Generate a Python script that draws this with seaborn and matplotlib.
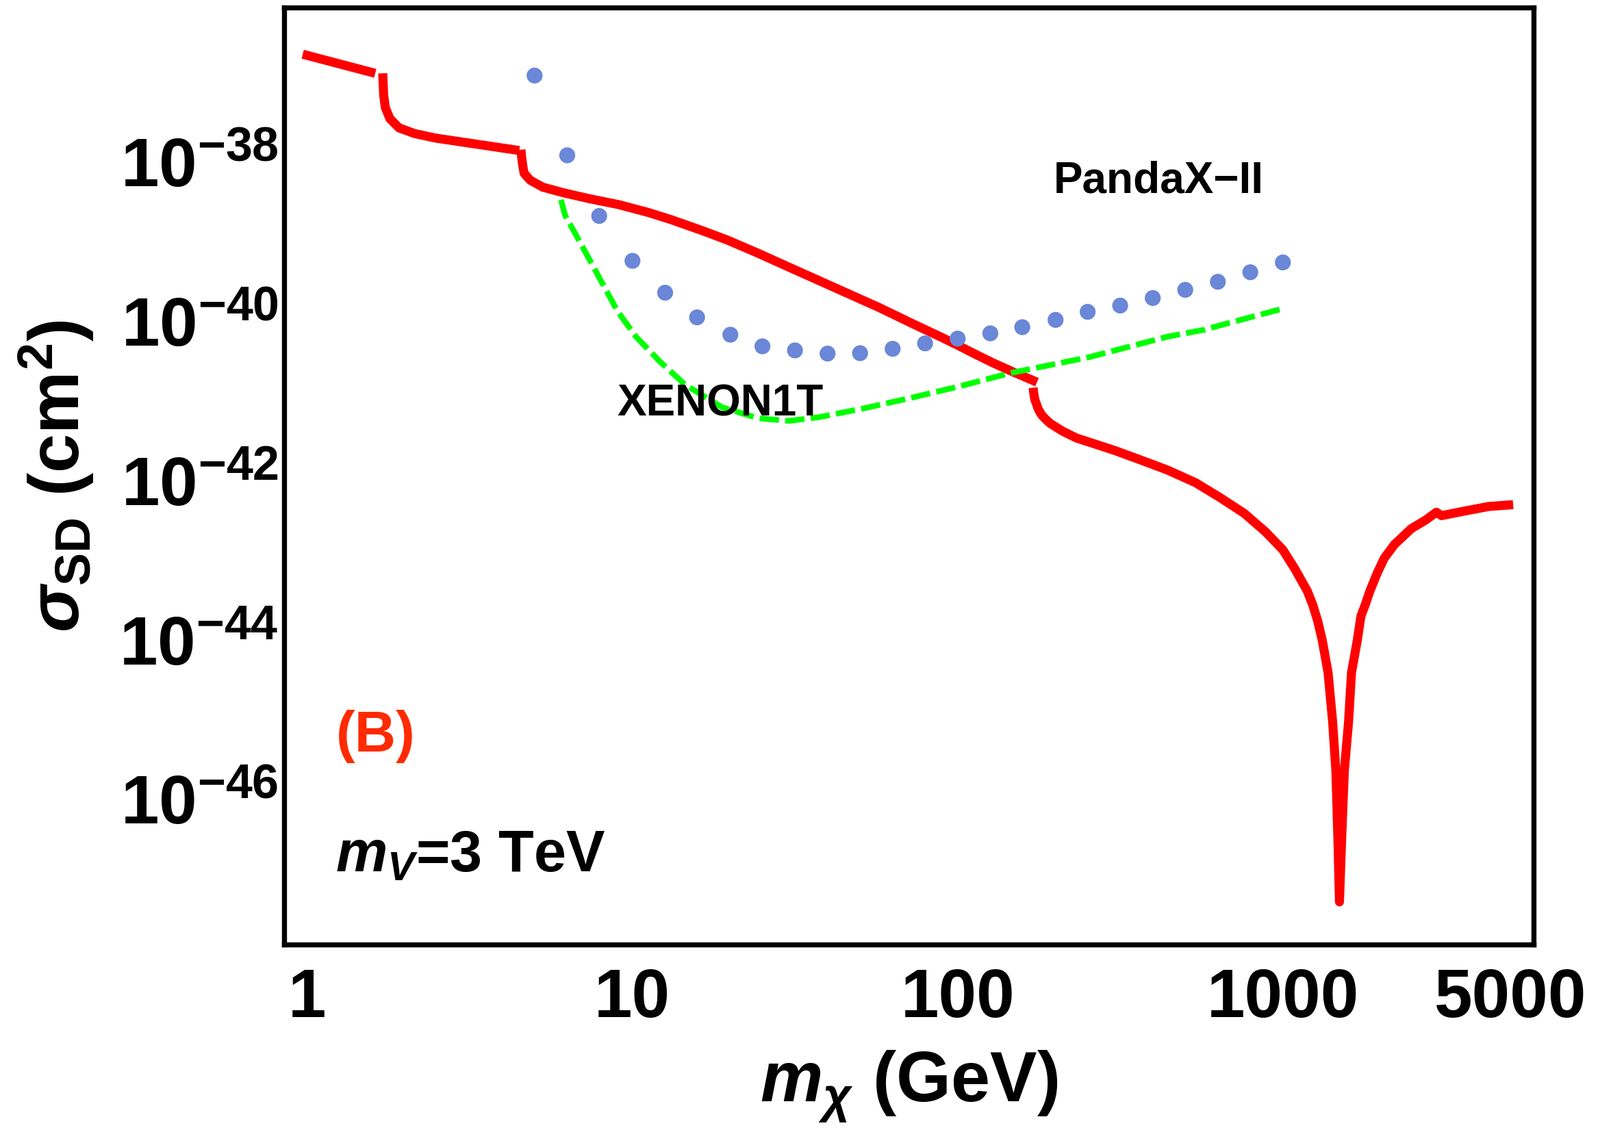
import numpy as np
import pandas as pd
import matplotlib
matplotlib.use("Agg")
import matplotlib.pyplot as plt
from matplotlib import font_manager as fm
from matplotlib.ticker import NullLocator
import seaborn as sns

# ---------------- data (log10 m_chi [GeV], log10 sigma_SD [cm^2]) ----------------
# red theory curve, drawn as separate pieces (threshold jumps)
red_a_logm = [-0.014, 0.209]
red_a_logs = [-36.64, -36.88]

red_b_logm = [0.232, 0.2335, 0.235, 0.240, 0.254, 0.282, 0.329, 0.395, 0.489, 0.583, 0.652]
red_b_logs = [-36.88, -37.02, -37.16, -37.31, -37.45, -37.565, -37.636, -37.694, -37.751, -37.808, -37.85]

red_c_logm = [0.657, 0.659, 0.663, 0.667, 0.686, 0.724, 0.789, 0.865, 0.958, 1.050,
              1.120, 1.217, 1.292, 1.386, 1.480, 1.574, 1.668, 1.762, 1.856, 1.950,
              2.003, 2.044, 2.108, 2.175, 2.244]
red_c_logs = [-37.84, -37.93, -38.05, -38.138, -38.224, -38.310, -38.382, -38.453, -38.530, -38.630,
              -38.720, -38.860, -38.975, -39.140, -39.313, -39.485, -39.657, -39.829, -40.015, -40.196,
              -40.302, -40.388, -40.517, -40.640, -40.760]

red_d_logm = [2.232, 2.234, 2.237, 2.248, 2.258, 2.269, 2.285, 2.323, 2.366, 2.409,
              2.484, 2.570, 2.645, 2.731, 2.806, 2.881, 2.946, 3.000, 3.036, 3.075,
              3.092, 3.107, 3.121, 3.139, 3.153, 3.163, 3.169, 3.174, 3.181, 3.189,
              3.202, 3.211, 3.229, 3.240, 3.253, 3.268, 3.290, 3.312, 3.343, 3.395,
              3.440, 3.472, 3.488, 3.558, 3.633, 3.708]
red_d_logs = [-40.830, -40.900, -40.975, -41.100, -41.170, -41.220, -41.280, -41.377, -41.463, -41.520,
              -41.620, -41.749, -41.864, -42.022, -42.208, -42.408, -42.638, -42.867, -43.100, -43.383,
              -43.560, -43.760, -44.000, -44.410, -45.027, -45.644, -46.467, -47.290, -46.467, -45.644,
              -45.027, -44.410, -44.000, -43.700, -43.560, -43.380, -43.160, -42.970, -42.800, -42.600,
              -42.490, -42.394, -42.437, -42.380, -42.322, -42.299]

# XENON1T limit (green dashed)
xenon_logm = [0.780, 0.793, 0.840, 0.897, 0.954, 1.011, 1.085, 1.161, 1.274, 1.386,
              1.481, 1.573, 1.715, 1.856, 2.001, 2.163, 2.404, 2.647, 2.761, 2.808, 2.993]
xenon_logs = [-38.469, -38.666, -39.011, -39.440, -39.869, -40.190, -40.504, -40.789, -41.073, -41.214,
              -41.247, -41.201, -41.086, -40.958, -40.817, -40.645, -40.446, -40.187, -40.100, -40.045, -39.844]

# PandaX-II limit (blue dots)
panda_m = [5.0, 6.3, 7.9, 10, 12.6, 15.8, 20, 25.1, 31.6, 39.8, 50.1, 63.1,
           79.4, 100, 126, 158, 200, 251, 316, 398, 501, 631, 794, 1000]
panda_logs = [-36.908, -37.910, -38.672, -39.236, -39.636, -39.946, -40.164, -40.310,
              -40.361, -40.401, -40.396, -40.341, -40.273, -40.213, -40.147, -40.069,
              -39.978, -39.877, -39.798, -39.703, -39.600, -39.499, -39.379, -39.256]

x_ticks = [1, 10, 100, 1000, 5000]
x_ticklabels = ["1", "10", "100", "1000", "5000"]
y_tick_exps = [-38, -40, -42, -44, -46]

# ---------------- style ----------------
sns.set_theme(style="white")
plt.rcParams["font.family"] = ["Liberation Sans", "DejaVu Sans"]
plt.rcParams["font.weight"] = "bold"
plt.rcParams["mathtext.fontset"] = "custom"
plt.rcParams["mathtext.rm"] = "Liberation Sans:bold"
plt.rcParams["mathtext.bf"] = "Liberation Sans:bold"
plt.rcParams["mathtext.it"] = "Liberation Sans:italic:bold"
plt.rcParams["mathtext.sf"] = "Liberation Sans:bold"


def has_font(name):
    try:
        fm.findfont(fm.FontProperties(family=name), fallback_to_default=False)
        return True
    except Exception:
        return False


label_B_font = "Liberation Sans Narrow" if has_font("Liberation Sans Narrow") else "Liberation Sans"

fig = plt.figure(figsize=(23.37, 16.51), dpi=100)
fig.patch.set_facecolor("white")
ax = fig.add_axes([0.1776, 0.1641, 0.7809, 0.8292])
ax.set_xscale("log")
ax.set_yscale("log")

RED = "#FF0000"
for lm, ls in [(red_a_logm, red_a_logs), (red_b_logm, red_b_logs),
               (red_c_logm, red_c_logs), (red_d_logm, red_d_logs)]:
    df = pd.DataFrame({"m": np.power(10.0, lm), "s": np.power(10.0, ls)})
    sns.lineplot(data=df, x="m", y="s", sort=False, estimator=None, ax=ax,
                 color=RED, linewidth=9.5, solid_capstyle="butt",
                 solid_joinstyle="round", zorder=2)

df_x = pd.DataFrame({"m": np.power(10.0, xenon_logm), "s": np.power(10.0, xenon_logs)})
sns.lineplot(data=df_x, x="m", y="s", sort=False, estimator=None, ax=ax,
             color="#00FF00", linewidth=6.0, zorder=3)
ax.lines[-1].set_dashes((3.4, 1.1))
ax.lines[-1].set_dash_capstyle("butt")
ax.lines[-1].set_dash_joinstyle("round")

df_p = pd.DataFrame({"m": panda_m, "s": np.power(10.0, panda_logs)})
sns.scatterplot(data=df_p, x="m", y="s", ax=ax, s=280, color="#6A87D8",
                edgecolor="none", linewidth=0, zorder=4)

# ---------------- axes ----------------
ax.set_xlim(0.849, 5902)
ax.set_ylim(10 ** -47.826, 10 ** -36.054)
ax.set_xticks(x_ticks)
ax.set_xticklabels(x_ticklabels, fontsize=72, fontweight="bold")
ax.set_yticks([10.0 ** e for e in y_tick_exps])
ax.set_yticklabels([r"$10^{%d}$" % e for e in y_tick_exps], fontsize=72)
ax.xaxis.set_minor_locator(NullLocator())
ax.yaxis.set_minor_locator(NullLocator())
ax.tick_params(axis="both", which="major", direction="in", length=6, width=2.5,
               color="black", labelcolor="black")
ax.tick_params(axis="x", pad=24)
ax.tick_params(axis="y", pad=6)
for sp in ax.spines.values():
    sp.set_visible(True)
    sp.set_color("black")
    sp.set_linewidth(5.3)
ax.grid(False)
ax.set_facecolor("white")

ax.set_xlabel(r"$m_{\chi}$ (GeV)", fontsize=74, fontweight="bold", color="black")
ax.set_ylabel(r"$\sigma_{\mathrm{SD}}$ (cm$^{2}$)", fontsize=74, fontweight="bold", color="black")
ax.xaxis.set_label_coords(0.5, -0.112)
ax.yaxis.set_label_coords(-0.150, 0.5)

# ---------------- annotations ----------------
ax.text(0.700, 0.815, "PandaX\u2212II", transform=ax.transAxes, ha="center", va="center",
        fontsize=46, fontweight="bold", color="black", zorder=6)
ax.text(0.349, 0.577, "XENON1T", transform=ax.transAxes, ha="center", va="center",
        fontsize=46, fontweight="bold", color="black", zorder=6)
ax.text(0.0732, 0.222, "(B)", transform=ax.transAxes, ha="center", va="center",
        fontsize=60, fontweight="bold", color="#FF2A00", family=label_B_font, zorder=6)
ax.text(0.041, 0.0782, r"$m_{V}$=3 TeV", transform=ax.transAxes, ha="left", va="baseline",
        fontsize=61, fontweight="bold", color="black", zorder=6)

fig.savefig("out.png", dpi=100, facecolor="white")
